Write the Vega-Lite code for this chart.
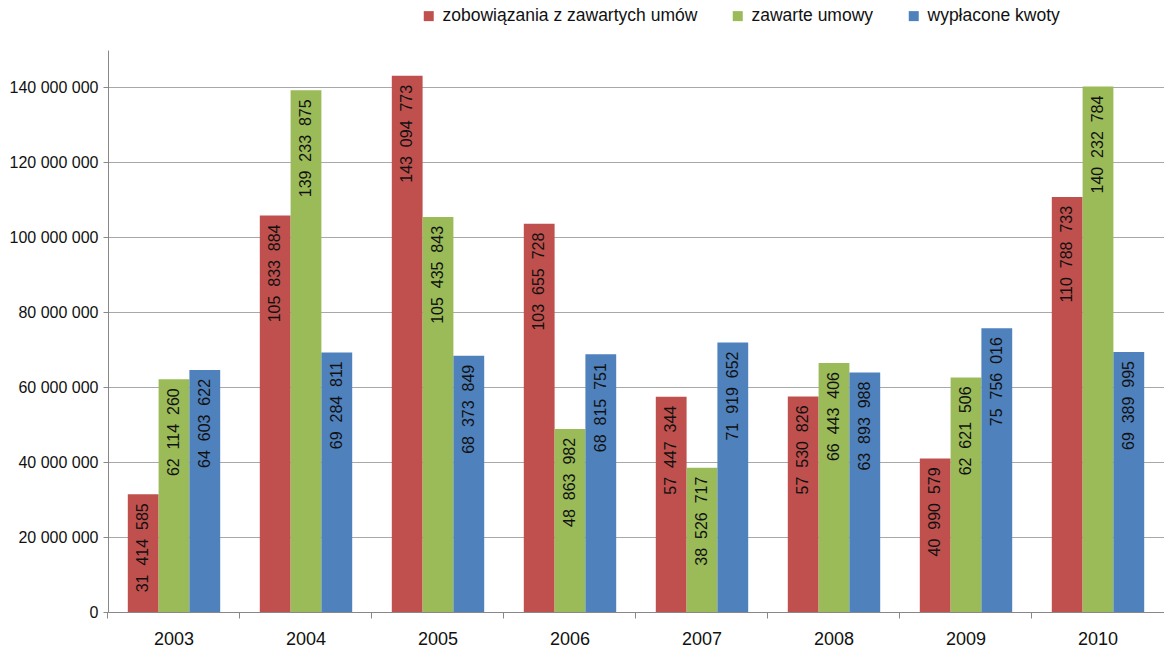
{
  "$schema": "https://vega.github.io/schema/vega-lite/v6.json",
  "width": 1056,
  "height": 562,
  "autosize": {"type": "none"},
  "padding": {"left": 108, "top": 50, "right": 0, "bottom": 39},
  "background": "white",
  "config": {
    "font": "Liberation Sans",
    "view": {"stroke": null},
    "locale": {"number": {"decimal": ",", "thousands": "\u2007", "grouping": [3], "currency": ["", ""]}}
  },
  "data": {"values": [
    {"year": "2003", "series": "zobowiązania z zawartych umów", "value": 31414585},
    {"year": "2003", "series": "zawarte umowy", "value": 62114260},
    {"year": "2003", "series": "wypłacone kwoty", "value": 64603622},
    {"year": "2004", "series": "zobowiązania z zawartych umów", "value": 105833884},
    {"year": "2004", "series": "zawarte umowy", "value": 139233875},
    {"year": "2004", "series": "wypłacone kwoty", "value": 69284811},
    {"year": "2005", "series": "zobowiązania z zawartych umów", "value": 143094773},
    {"year": "2005", "series": "zawarte umowy", "value": 105435843},
    {"year": "2005", "series": "wypłacone kwoty", "value": 68373849},
    {"year": "2006", "series": "zobowiązania z zawartych umów", "value": 103655728},
    {"year": "2006", "series": "zawarte umowy", "value": 48863982},
    {"year": "2006", "series": "wypłacone kwoty", "value": 68815751},
    {"year": "2007", "series": "zobowiązania z zawartych umów", "value": 57447344},
    {"year": "2007", "series": "zawarte umowy", "value": 38526717},
    {"year": "2007", "series": "wypłacone kwoty", "value": 71919652},
    {"year": "2008", "series": "zobowiązania z zawartych umów", "value": 57530826},
    {"year": "2008", "series": "zawarte umowy", "value": 66443406},
    {"year": "2008", "series": "wypłacone kwoty", "value": 63893988},
    {"year": "2009", "series": "zobowiązania z zawartych umów", "value": 40990579},
    {"year": "2009", "series": "zawarte umowy", "value": 62621506},
    {"year": "2009", "series": "wypłacone kwoty", "value": 75756016},
    {"year": "2010", "series": "zobowiązania z zawartych umów", "value": 110788733},
    {"year": "2010", "series": "zawarte umowy", "value": 140232784},
    {"year": "2010", "series": "wypłacone kwoty", "value": 69389995}
  ]},
  "resolve": {"axis": {"x": "independent"}},
  "encoding": {
    "y": {
      "field": "value", "type": "quantitative",
      "scale": {"domain": [0, 150000000], "nice": false},
      "axis": {
        "title": null,
        "values": [0, 20000000, 40000000, 60000000, 80000000, 100000000, 120000000, 140000000],
        "labelExpr": "replace(format(datum.value, ',d'), /\u2007/g, ' ')",
        "labelFontSize": 16, "labelColor": "#111", "labelPadding": 5,
        "tickSize": 5, "tickColor": "#888", "domainColor": "#888",
        "gridColor": "#a8a8a8", "gridWidth": 1
      }
    },
    "xOffset": {"field": "series", "type": "nominal", "sort": ["zobowiązania z zawartych umów", "zawarte umowy", "wypłacone kwoty"]}
  },
  "layer": [
    {
      "mark": {"type": "bar"},
      "encoding": {
        "x": {
          "field": "year", "type": "nominal",
          "scale": {"paddingInner": 0.3, "paddingOuter": 0.15},
          "axis": {"title": null, "orient": "bottom", "labelAngle": 0, "labelFontSize": 18, "labelColor": "#111", "labelPadding": 18, "ticks": false, "domainColor": "#888", "grid": false}
        },
        "color": {
          "field": "series", "type": "nominal",
          "sort": ["zobowiązania z zawartych umów", "zawarte umowy", "wypłacone kwoty"],
          "scale": {"domain": ["zobowiązania z zawartych umów", "zawarte umowy", "wypłacone kwoty"], "range": ["#C0504D", "#9BBB59", "#4F81BD"]},
          "legend": {
            "title": null, "orient": "none", "direction": "horizontal",
            "legendX": 312, "legendY": -43,
            "symbolType": "square", "symbolSize": 100, "symbolStrokeWidth": 0,
            "labelFontSize": 17.5, "labelColor": "#111", "labelOffset": 5,
            "columnPadding": 31, "labelLimit": 400
          }
        }
      }
    },
    {
      "mark": {"type": "text", "angle": 270, "align": "right", "baseline": "middle", "dx": -9, "fontSize": 16, "color": "#111"},
      "encoding": {
        "x": {
          "field": "year", "type": "nominal",
          "axis": {"title": null, "orient": "bottom", "labels": false, "ticks": true, "tickSize": 6, "tickColor": "#888", "domain": false, "grid": false, "bandPosition": -0.2143}
        },
        "text": {"field": "value", "type": "quantitative", "format": ",d"}
      }
    }
  ]
}
